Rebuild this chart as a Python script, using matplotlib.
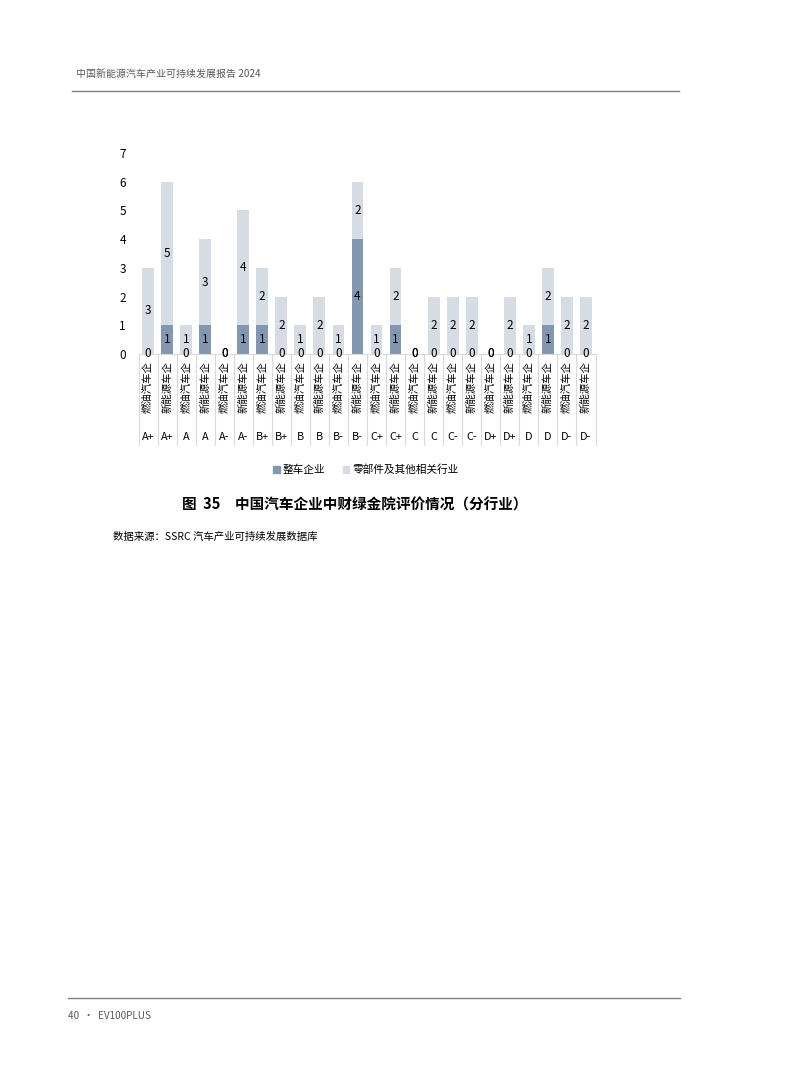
import matplotlib
matplotlib.use("Agg")
import matplotlib.pyplot as plt
from matplotlib.patches import Patch

plt.rcParams['font.family'] = ['Noto Sans CJK SC', 'DejaVu Sans']

# 数据
grades = ['A+', 'A+', 'A', 'A', 'A-', 'A-', 'B+', 'B+', 'B', 'B', 'B-', 'B-',
          'C+', 'C+', 'C', 'C', 'C-', 'C-', 'D+', 'D+', 'D', 'D', 'D-', 'D-']
kinds = ['燃油汽车企', '新能源车企'] * 12
vehicle = [0, 1, 0, 1, 0, 1, 1, 0, 0, 0, 0, 4,
           0, 1, 0, 0, 0, 0, 0, 0, 0, 1, 0, 0]      # 整车企业
parts = [3, 5, 1, 3, 0, 4, 2, 2, 1, 2, 1, 2,
         1, 2, 0, 2, 2, 2, 0, 2, 1, 2, 2, 2]        # 零部件及其他相关行业

c_dark = '#8497b0'
c_light = '#d6dce4'
c_line = '#d9d9d9'

W, H = 793, 1077
fig = plt.figure(figsize=(W / 100, H / 100), dpi=100)

# 页眉页脚
fig.text(76 / W, 1 - 75 / H, '中国新能源汽车产业可持续发展报告 2024', fontsize=7.2,
         color='#595959', va='center', ha='left')
fig.add_artist(plt.Line2D([72 / W, 679 / W], [1 - 91 / H, 1 - 91 / H],
                          color='#7f7f7f', lw=1.0))
fig.add_artist(plt.Line2D([68 / W, 680 / W], [1 - 998 / H, 1 - 998 / H],
                          color='#7f7f7f', lw=1.0))
fig.text(68 / W, 1 - 1016 / H, '40  ·  EV100PLUS', fontsize=7.2,
         color='#595959', va='center', ha='left')

# 图表区
left, right, top, bottom = 138.5, 595.5, 153, 354
ax = fig.add_axes([left / W, 1 - bottom / H, (right - left) / W, (bottom - top) / H])

x = list(range(len(grades)))
ax.bar(x, vehicle, width=0.62, color=c_dark, zorder=2)
ax.bar(x, parts, width=0.62, bottom=vehicle, color=c_light, zorder=2)

for i in x:
    ax.text(i, vehicle[i] / 2, str(vehicle[i]), ha='center', va='center',
            fontsize=8.5, color='#000000', zorder=3)
    ax.text(i, vehicle[i] + parts[i] / 2, str(parts[i]), ha='center', va='center',
            fontsize=8.5, color='#000000', zorder=3)

ax.set_xlim(-0.5, len(grades) - 0.5)
ax.set_ylim(0, 7)
ax.set_yticks(range(8))
ax.tick_params(axis='y', length=0, pad=9, labelsize=8.5, labelcolor='#000000')
ax.set_xticks([])
for s in ['top', 'right', 'left']:
    ax.spines[s].set_visible(False)
ax.spines['bottom'].set_color(c_line)
ax.spines['bottom'].set_linewidth(0.8)

# 多级分类轴
depth = (445 - bottom) / (bottom - top)
trans = ax.get_xaxis_transform()
for i in range(len(grades) + 1):
    ax.plot([i - 0.5, i - 0.5], [0, -depth], transform=trans, color=c_line,
            lw=0.8, clip_on=False)
sub_y = -(387 - bottom) / (bottom - top)
grade_y = -(437 - bottom) / (bottom - top)
for i in x:
    ax.text(i, sub_y, kinds[i], transform=trans, rotation=90, ha='center',
            va='center', fontsize=7.5, color='#000000')
    ax.text(i, grade_y, grades[i], transform=trans, ha='center', va='center',
            fontsize=7.8, color='#000000')

# 图例
handles = [Patch(color=c_dark, label='整车企业'),
           Patch(color=c_light, label='零部件及其他相关行业')]
fig.legend(handles=handles, loc='center', bbox_to_anchor=(366 / W, 1 - 470 / H),
           ncol=2, frameon=False, fontsize=7.7, handlelength=0.6,
           handleheight=0.6, handletextpad=0.3, columnspacing=1.6)

# 标题与来源
fig.text(355 / W, 1 - 505 / H, '图  35　中国汽车企业中财绿金院评价情况（分行业）',
         fontsize=10.5, fontweight='bold', ha='center', va='center', color='#000000')
fig.text(113 / W, 1 - 537 / H, '数据来源：SSRC 汽车产业可持续发展数据库',
         fontsize=7.5, ha='left', va='center', color='#000000')

fig.savefig('out.png', dpi=100)
